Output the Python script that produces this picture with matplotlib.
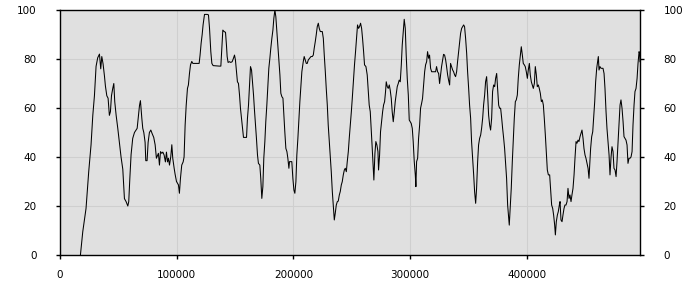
import matplotlib
matplotlib.use('Agg')
import matplotlib.pyplot as plt
import numpy as np

# position (thousands) and value
pos_k = [
    17.5, 19.5, 22.3, 24.6, 26.6, 28.1, 29.5, 30.9, 32.3, 33.8, 34.9, 35.8, 36.9, 38.1, 38.9,
    40.1, 41.2, 42.3, 43.2, 44.1, 45.2, 46.1, 46.9, 48.1, 49.5, 50.9, 52.3, 53.8, 55.2, 56.6, 58.1,
    58.9, 59.8, 60.9, 62.3, 63.8, 65.2, 66.1, 67.2, 68.1, 68.9, 70.1, 70.9, 71.8, 72.9, 73.5, 74.6,
    75.5, 76.6, 77.8, 78.9, 80.3, 81.5, 82.6,
    84.3, 85.2, 86.1, 87.2, 88.1, 89.2, 90.3, 91.2, 92.1, 92.9, 93.8, 94.9, 95.8, 96.6, 97.8, 98.6,
    99.8, 100.6, 101.5, 102.3, 103.2, 104.3, 105.5, 106.3, 107.2, 108.1, 109.2, 110.0, 110.9, 111.8,
    112.9, 113.8, 116.4, 119.2, 120.0, 120.9, 121.8, 122.6, 123.8, 126.1, 127.2, 128.1, 129.2, 130.1,
    131.2, 136.4, 137.8, 138.6, 139.5, 140.6, 141.8, 142.6, 143.2, 144.0, 145.2, 146.3, 147.5, 148.6,
    149.5, 150.3, 151.2, 152.0, 152.9, 153.8, 154.6, 155.5, 156.4, 157.2, 159.8, 160.6, 161.5, 162.3,
    163.2, 164.1, 164.9, 165.8, 166.6,
    168.3, 169.2, 170.0, 171.2, 172.0, 172.9, 173.8, 174.6, 175.5, 176.3, 177.2, 178.1, 178.9, 179.8,
    180.6, 181.5, 182.4, 183.2, 184.1, 184.9, 185.8, 186.6, 187.5, 188.4, 189.2, 190.1, 191.0, 191.8,
    192.6, 193.5, 194.4, 195.2, 196.1, 196.6, 197.5, 198.6, 199.5, 200.4, 201.2, 202.1, 202.9, 203.8,
    204.7, 205.5, 206.4, 207.2, 208.4, 209.2, 210.1, 211.0, 211.8, 212.7, 213.8, 215.0, 216.1, 217.0,
    217.8, 218.7, 219.5, 220.4, 221.3, 222.1, 223.0, 223.8, 224.7, 225.6, 226.4, 227.3, 228.1, 229.0,
    229.8, 230.7, 231.6, 232.4, 233.3, 234.1, 235.0, 235.8, 236.7, 237.6, 238.4, 239.3, 240.1, 241.0,
    241.8, 242.7, 243.6, 244.4, 245.3, 246.1, 247.0, 247.8, 248.7, 249.6, 250.4, 251.3,
    252.3, 253.2, 254.0, 254.9, 255.8, 256.6, 257.5, 258.4, 259.2, 260.1, 260.9, 262.1, 263.2, 264.1,
    264.9, 265.8, 266.6, 267.5, 268.4, 268.9, 269.8, 270.6, 271.5, 272.4, 272.9, 273.8, 274.6, 275.5,
    276.4, 277.2, 278.1, 278.9, 279.5, 280.4, 281.2, 282.1, 282.9, 283.8, 284.6, 285.5, 286.4, 287.2,
    288.1, 288.9, 289.8, 290.6, 291.5, 292.4, 293.2, 294.1, 294.9, 295.8, 296.6, 297.5, 298.4, 299.2,
    300.1, 300.9, 301.8, 302.6, 303.5, 304.4, 304.9, 305.5, 306.4, 307.2, 308.1, 308.9, 309.8, 310.6,
    311.5, 312.4, 313.2, 314.1, 314.9, 315.8, 316.6, 317.5, 318.4, 319.5, 320.6, 321.8, 322.6, 323.5,
    324.4, 325.2, 326.1, 326.9, 327.8, 328.6, 329.5, 330.4, 331.2, 332.1, 332.9, 333.8, 334.6,
    335.5, 336.4, 337.2, 338.1, 338.9, 339.8, 340.6, 341.5, 342.4, 343.2, 344.1, 344.9, 345.8, 346.6,
    347.5, 348.4, 349.2, 350.1, 350.9, 351.8, 352.6, 353.5, 354.4, 355.2, 356.1, 356.9, 357.8, 358.6,
    359.5, 360.4, 361.2, 362.1, 362.9, 363.8, 364.6, 365.5, 366.4, 367.2, 368.1, 368.9, 369.8, 370.6,
    371.5, 372.4, 373.2, 374.1, 374.9, 375.8, 376.6, 377.5, 378.4, 379.2, 380.1, 380.9, 381.8, 382.6,
    383.5, 384.4, 384.9, 385.8, 386.6, 387.5, 388.4, 389.2, 390.1, 390.9, 391.8, 392.6, 393.5, 394.4,
    395.2, 396.1, 396.9, 397.8, 398.6, 399.5, 400.4, 401.2, 402.1, 402.9, 403.8, 404.6, 405.5, 406.4,
    407.2, 408.1, 408.9, 409.8, 410.6, 411.5, 412.4, 413.2, 414.1, 414.9, 415.8, 416.6, 417.5, 418.4,
    419.5, 420.4, 421.2, 422.1, 422.9, 423.8, 424.4, 425.2, 426.1, 426.9, 427.8, 428.4, 429.2, 430.1,
    430.9, 431.8, 432.6, 433.5, 434.4, 435.2, 436.1, 436.9, 437.8, 438.6, 439.5, 440.4, 441.2, 442.1,
    442.9, 443.8, 444.6, 445.5, 446.4, 447.2, 448.1, 448.9, 449.8, 450.6, 451.5, 452.4, 453.2, 453.8,
    454.6, 455.5, 456.4, 457.2, 458.1, 458.9, 459.8, 460.6, 461.2, 461.8, 462.6, 463.5, 464.4, 465.2,
    466.1, 466.9, 467.8, 468.6, 469.5, 470.4, 471.2, 472.1, 472.9, 473.8, 474.6, 475.5, 476.4, 477.2,
    478.1, 478.9, 479.8, 480.6, 481.5, 482.4, 483.2, 484.1, 484.9, 485.8, 486.6, 487.5, 488.4, 489.2,
    490.1, 490.9, 491.8, 492.6, 493.5, 494.4, 495.2, 496.1, 496.6, 496.9,
]
values = [
    0, 9.5, 19, 34, 45, 57, 65, 77, 80.5, 82, 76, 81, 78, 73, 69,
    65, 64, 57, 58.5, 65, 68, 70, 62.6, 57, 51.7, 46, 40, 35, 23, 21.8, 20,
    21.8, 31, 41, 47.6, 50, 51, 51.7, 57, 61, 63, 55.8, 51.7, 50, 46, 38.5, 38.5,
    46, 50, 51, 49.6, 48, 45, 39.5,
    41.5, 36.7, 42.2, 41.5, 42, 40.8, 38, 42, 38, 39.5, 36.7, 40.1, 45, 39.5, 35.4, 33,
    30, 29.3, 28.6, 25.2, 31.3, 36.7, 38, 40, 53, 61, 68, 69.4, 74, 77.6,
    79, 78.2, 78.2, 78.2, 81.6, 86.4, 90, 94, 98.2, 98.2, 98, 92.5, 83, 78.2,
    77.3, 77.1, 77.1, 84.4, 91.8, 91.2, 90.9, 85.7, 81, 78.6, 78.9, 78.6, 78.9, 80.3,
    81.6, 79.6, 74.8, 70.7, 70, 65.3, 59.9, 55.8, 51.7, 48, 48, 55.8, 61.2, 68.7,
    76.9, 75.5, 70.7, 65.3, 59.2,
    47.6, 40.8, 37.4, 36.7, 31.3, 23.1, 27.9, 39.5, 46.3, 54.4, 61.2, 69.4, 76.2, 80.3,
    84.4, 88.4, 91.8, 96.6, 100, 97.3, 91.2, 85.7, 80.3, 73.5, 66, 64.6, 64, 57.1,
    50.3, 43.5, 42.2, 39.5, 35.4, 38.1, 38.1, 38.1, 31.3, 26.5, 25.2, 29.9, 40.8, 47.6,
    55.8, 62.6, 69.4, 74.8, 78.9, 81, 79.6, 78.2, 78.2, 79.6, 80.3, 81, 81, 81.6,
    84.4, 87.1, 89.8, 93.2, 94.6, 92.5, 91.2, 91.2, 91.2, 88.4, 81.6, 74.8, 68, 61.2,
    53, 46.3, 39.5, 34, 25.9, 20.4, 14.3, 17, 20.4, 21.8, 22, 24.5, 25.9, 28.6,
    29.9, 32.7, 34.7, 35.4, 34, 38.1, 42.2, 47.6, 53, 58.5, 63.9, 70.7,
    77.6, 83, 88.4, 93.9, 92.5, 93.2, 94.6, 92.5, 88.4, 83, 77.6, 76.9, 73.5, 66.7,
    61.2, 58.5, 51.7, 43.5, 34.7, 30.6, 41.5, 46.3, 44.9, 42.2, 34.7, 40.8, 50.3, 54.4,
    58.5, 61.2, 62.6, 66.7, 70.7, 68.7, 68, 69.4, 67.3, 63.9, 58.5, 54.4, 58.5, 62.6,
    66, 68.7, 70, 71.4, 70.7, 77.6, 85.7, 91.2, 96.2, 92.5, 81.6, 72.1, 65.3, 55.1,
    54.4, 53.7, 51.7, 46.3, 38.1, 32.7, 27.9, 38.1, 39.5, 47.6, 53, 59.9, 61.9, 63.9,
    69.4, 74.8, 77.6, 78.9, 83, 80.3, 81.6, 76.2, 74.8, 74.8, 74.8, 74.8, 76.9, 74.8,
    74.1, 70, 73.5, 76.9, 79.6, 81.9, 81.6, 79.6, 76.9, 73.5, 71.4, 69.4, 78.2,
    76.9, 75.5, 74.8, 73.5, 72.8, 74.8, 78.9, 83, 87.1, 90.5, 92.5, 93.2, 93.9, 93.2,
    88.4, 82.3, 74.8, 68, 61.2, 55.8, 46.3, 39.5, 32.7, 25.9, 21.1, 27.2, 38.1, 44.9,
    47.6, 49, 51.7, 55.8, 61.2, 65.3, 70.7, 72.8, 65.3, 57.1, 53, 51, 55.8, 66.7,
    69.4, 68.7, 72.1, 74.1, 68, 61.2, 59.9, 59.9, 55.8, 51.7, 47.6, 43.5, 36.7, 31.3,
    20.4, 15, 12.2, 20.4, 27.2, 38.1, 47.6, 55.8, 62.6, 63.3, 65.3, 72.1, 77.6, 81.6,
    85, 81.6, 78.2, 77.6, 76.9, 74.8, 72.1, 75.5, 78.2, 73.5, 70.7, 69.4, 68, 70,
    76.9, 73.5, 68.7, 69.4, 68, 66, 62.6, 63.3, 61.2, 55.8, 49, 42.2, 34.7, 32.7,
    32.7, 25.9, 20.4, 19, 16.3, 12.2, 8.2, 13.6, 16.3, 17.7, 20.4, 21.8, 14.3, 13.6,
    16.3, 19, 20.4, 20.4, 21.8, 27.2, 23.1, 24.5, 21.8, 24.5, 27.2, 32.7, 39.5, 46.3,
    45.6, 46.9, 46.3, 48.3, 49.7, 51, 47.6, 43.5, 40.8, 39.5, 37.4, 35.4, 31.3, 36.7,
    43.5, 48.3, 50.3, 55.8, 62.6, 70.7, 76.2, 78.9, 81, 75.5, 76.9, 76.2, 76.2, 76.2,
    74.1, 68, 58.5, 51.7, 46.3, 40.8, 32.7, 40, 44.2, 42.2, 35.4, 34.7, 32, 38.1,
    46.3, 54.4, 61.2, 63.3, 59.9, 54.4, 48.3, 47.6, 46.9, 44.9, 37.4, 39.5, 39.5, 40,
    42.2, 53, 61.2, 66.7, 68, 72.1, 78.2, 83, 82.3, 78.9,
]
x_ticks = [0, 100000, 200000, 300000, 400000]
y_ticks = [0, 20, 40, 60, 80, 100]

x = np.array(pos_k) * 1000

fig = plt.figure(figsize=(7, 3), dpi=100)
ax = fig.add_axes([60 / 700, 45 / 300, 580 / 700, 245 / 300])
ax.set_facecolor('#e0e0e0')
ax.plot(x, values, color='black', linewidth=0.75)

ax.set_xlim(0, x[-1])
ax.set_ylim(0, 100)
ax.set_xticks(x_ticks)
ax.set_xticklabels([str(t) for t in x_ticks])
ax.set_yticks(y_ticks)
ax.grid(True, color='#cfcfcf', linewidth=0.8)
ax.set_axisbelow(True)

for s in ax.spines.values():
    s.set_color('black')
    s.set_linewidth(1)

ax.tick_params(axis='both', direction='out', length=3, width=1, labelsize=7.5, colors='black')
ax.tick_params(axis='x', pad=8)
ax.tick_params(axis='y', left=True, right=True, labelleft=True, labelright=True)
ax.tick_params(axis='y', which='both', pad=14)

fig.savefig('out.png', dpi=100)
